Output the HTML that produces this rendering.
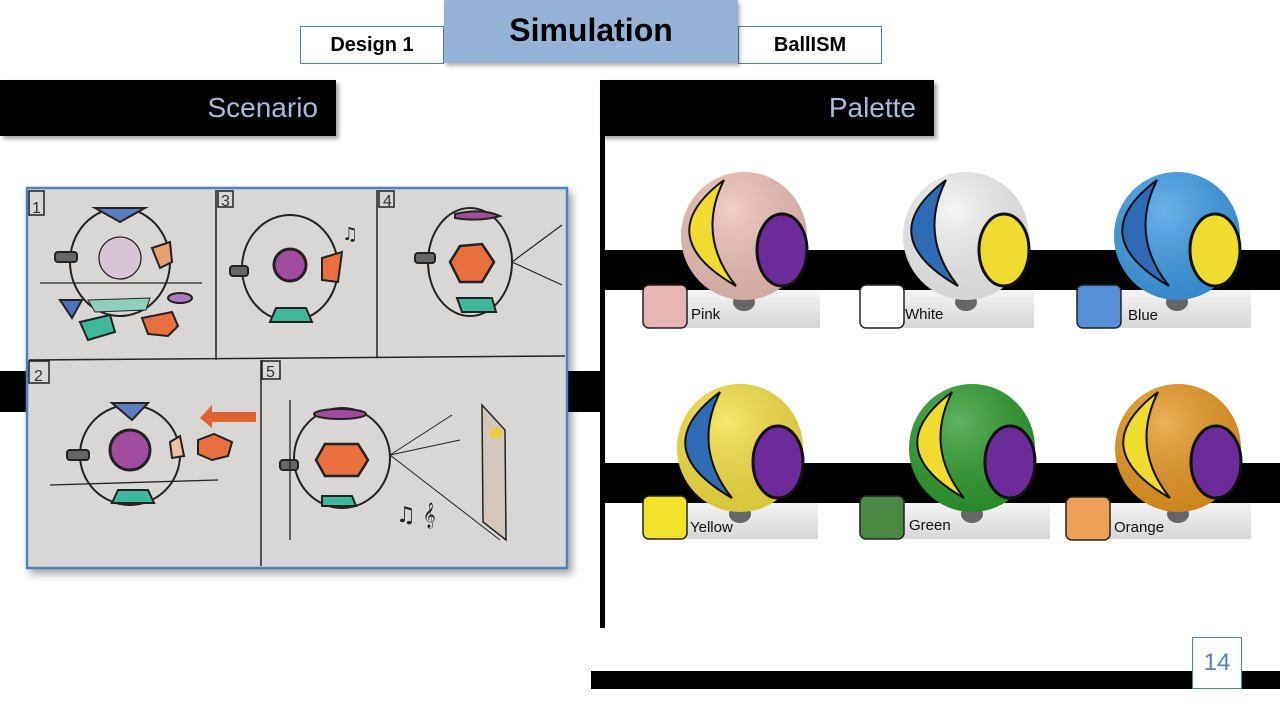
<!DOCTYPE html>
<html><head><meta charset="utf-8"><style>
body{margin:0;width:1280px;height:720px;position:relative;background:#fff;overflow:hidden;font-family:"Liberation Sans",Arial,sans-serif}
.a{position:absolute}
.box{position:absolute;background:#fff;border:1px solid #4f81bd;font-weight:bold;font-size:20px;display:flex;align-items:center;justify-content:center;box-sizing:border-box}
.bar{position:absolute;background:#000;color:#a9bcd9;font-size:28px;text-align:right;box-shadow:3px 3px 4px rgba(0,0,0,.35);box-sizing:border-box;padding-right:18px;line-height:56px}
.lbl{position:absolute;font-size:15px;color:#111}
</style></head><body>
<div class="box" style="left:300px;top:26px;width:144px;height:38px">Design 1</div>
<div class="box" style="left:738px;top:26px;width:144px;height:38px">BallISM</div>
<div class="a" style="left:444px;top:0;width:294px;height:63px;background:#95b3d7;box-shadow:2px 3px 4px rgba(0,0,0,.3);font-weight:bold;font-size:32px;text-align:center;line-height:60px">Simulation</div>
<div class="bar" style="left:0;top:80px;width:336px;height:56px">Scenario</div>
<div class="bar" style="left:600px;top:80px;width:334px;height:56px">Palette</div>
<div class="a" style="left:600px;top:135px;width:5px;height:493px;background:#000"></div>
<div class="a" style="left:0;top:371px;width:600px;height:41px;background:#000"></div>
<div class="a" style="left:604px;top:250px;width:676px;height:40px;background:#000"></div>
<div class="a" style="left:604px;top:463px;width:676px;height:40px;background:#000"></div>
<div class="a" style="left:591px;top:671px;width:689px;height:18px;background:#000"></div>
<div class="a" style="left:1192px;top:637px;width:50px;height:52px;background:#fff;border:1px solid #4f81bd;box-sizing:border-box;color:#4f81bd;font-size:24px;text-align:center;line-height:50px">14</div>

<svg class="a" style="left:0;top:0" width="1280" height="720">
<defs>
<linearGradient id="bd" x1="0" y1="0" x2="0" y2="1"><stop offset="0" stop-color="#f4f4f4"/><stop offset="1" stop-color="#d6d6d6"/></linearGradient>
<radialGradient id="sh" cx=".4" cy=".3" r=".8"><stop offset="0" stop-color="#fff" stop-opacity=".25"/><stop offset="1" stop-color="#000" stop-opacity=".12"/></radialGradient>
</defs>
<rect x="27" y="188" width="540" height="380" fill="#d8d7d5" stroke="#4f81bd" stroke-width="2.5" style="filter:drop-shadow(4px 5px 4px rgba(0,0,0,.35))"/>
<g stroke="#222" stroke-width="1.5" fill="none">
<line x1="216" y1="190" x2="216" y2="360"/><line x1="377" y1="190" x2="377" y2="358"/>
<line x1="29" y1="360" x2="565" y2="356"/><line x1="261" y1="360" x2="261" y2="566"/>
<rect x="29" y="191" width="15" height="24"/><rect x="218" y="191" width="15" height="16"/><rect x="379" y="191" width="15" height="16"/>
<rect x="29" y="361" width="20" height="22"/><rect x="262" y="361" width="18" height="18"/>
</g>
<g font-family="Liberation Sans" font-size="16" fill="#333"><text x="32" y="213">1</text><text x="221" y="206">3</text><text x="383" y="206">4</text><text x="34" y="381">2</text><text x="266" y="377">5</text></g>
<g stroke="#222" stroke-width="2">
<ellipse cx="120" cy="262" rx="50" ry="54" fill="none"/><circle cx="120" cy="258" r="21" fill="#d8c6d6" stroke-width="1.3"/>
<path d="M95,208 L145,208 L120,222Z" fill="#5b7ec0"/><path d="M88,300 L150,298 L146,310 L95,312Z" fill="#8fcfbe" stroke-width="1"/>
<path d="M152,248 L170,242 L172,262 L160,268Z" fill="#e8a070"/><rect x="55" y="252" width="22" height="10" rx="3" fill="#666"/>
<path d="M60,300 L82,300 L72,318Z" fill="#4d70c0"/><path d="M80,322 L110,315 L115,332 L88,340Z" fill="#3fb79b"/>
<path d="M142,318 L172,312 L178,326 L168,336 L148,334Z" fill="#e8703e"/><ellipse cx="180" cy="298" rx="12" ry="5" fill="#b07ab8"/>
<line x1="40" y1="283" x2="202" y2="283" stroke-width="1.3"/>
<ellipse cx="290" cy="268" rx="48" ry="53" fill="none"/><circle cx="290" cy="265" r="16" fill="#a14c9e" stroke-width="3"/>
<path d="M322,258 L342,252 L338,282 L322,280Z" fill="#e8703e"/><path d="M276,308 L306,308 L312,322 L270,322Z" fill="#3fb79b"/><rect x="230" y="266" width="18" height="10" rx="3" fill="#666"/>
<ellipse cx="470" cy="262" rx="42" ry="54" fill="none"/><path d="M455,214 Q482,208 500,216 Q480,222 455,218Z" fill="#a14c9e"/>
<path d="M460,246 L482,244 L494,262 L482,282 L460,282 L450,262Z" fill="#e8703e" stroke-width="2.5"/><path d="M457,298 L492,298 L496,312 L462,312Z" fill="#3fb79b"/><rect x="415" y="253" width="20" height="10" rx="3" fill="#666"/>
<line x1="512" y1="262" x2="562" y2="225" stroke-width="1.2"/><line x1="512" y1="262" x2="562" y2="285" stroke-width="1.2"/>
<ellipse cx="130" cy="455" rx="50" ry="50" fill="none"/><circle cx="130" cy="450" r="20" fill="#a14c9e" stroke-width="3"/>
<path d="M112,403 L148,403 L132,420Z" fill="#5b7ec0"/><path d="M118,490 L148,490 L154,503 L112,503Z" fill="#3fb79b"/><rect x="67" y="450" width="22" height="10" rx="3" fill="#666"/>
<path d="M198,440 L214,434 L232,442 L228,456 L212,460 L198,454Z" fill="#e8703e"/><path d="M170,442 L180,436 L184,456 L172,458Z" fill="#f0c0a0"/>
<path d="M200,418 L212,405 L212,412 L256,412 L256,422 L212,422 L212,428Z" fill="#e06030" stroke="none"/>
<line x1="50" y1="485" x2="218" y2="480" stroke-width="1.3"/>
<ellipse cx="342" cy="458" rx="48" ry="50" fill="none"/><ellipse cx="340" cy="414" rx="26" ry="5" fill="#a14c9e"/>
<path d="M325,444 L358,444 L368,460 L358,476 L325,476 L316,460Z" fill="#e8703e" stroke-width="2.5"/><path d="M322,496 L352,496 L356,506 L322,506Z" fill="#3fb79b"/><rect x="280" y="460" width="18" height="10" rx="3" fill="#666"/>
<line x1="290" y1="400" x2="290" y2="540" stroke-width="1.3"/>
<path d="M482,405 L505,430 L506,540 L483,522Z" fill="#d3c7bd" stroke-width="1.5"/><circle cx="496" cy="433" r="6" fill="#e6cf40" stroke="none"/>
<g stroke-width="1"><line x1="390" y1="455" x2="452" y2="415"/><line x1="390" y1="455" x2="460" y2="440"/><line x1="390" y1="455" x2="500" y2="540"/></g>
</g>
<text x="396" y="522" font-size="22" fill="#222" font-family="DejaVu Sans">♫ 𝄞</text>
<text x="342" y="240" font-size="18" fill="#222" font-family="DejaVu Sans">♫</text>

<rect x="660" y="290" width="160" height="38" fill="url(#bd)"/>
<rect x="878" y="290" width="156" height="38" fill="url(#bd)"/>
<rect x="1095" y="290" width="156" height="38" fill="url(#bd)"/>
<rect x="660" y="503" width="158" height="36" fill="url(#bd)"/>
<rect x="878" y="503" width="172" height="36" fill="url(#bd)"/>
<rect x="1095" y="503" width="156" height="36" fill="url(#bd)"/>
<g transform="translate(744,236)"><ellipse cx="0" cy="66" rx="11" ry="9" fill="#666"/><ellipse cx="0" cy="0" rx="63" ry="64" fill="#eec0b6"/><ellipse cx="0" cy="0" rx="63" ry="64" fill="url(#sh)"/><path d="M-20,-56 Q-95,0 -8,50 Q-48,0 -20,-56Z" fill="#f0dc30" stroke="#111" stroke-width="2"/><ellipse cx="38" cy="14" rx="25" ry="36" fill="#6b2c9a" stroke="#111" stroke-width="3"/></g>
<g transform="translate(966,236)"><ellipse cx="0" cy="66" rx="11" ry="9" fill="#666"/><ellipse cx="0" cy="0" rx="63" ry="64" fill="#f2f2f2"/><ellipse cx="0" cy="0" rx="63" ry="64" fill="url(#sh)"/><path d="M-20,-56 Q-95,0 -8,50 Q-48,0 -20,-56Z" fill="#2f6ab4" stroke="#111" stroke-width="2"/><ellipse cx="38" cy="14" rx="25" ry="36" fill="#f0dc30" stroke="#111" stroke-width="3"/></g>
<g transform="translate(1177,236)"><ellipse cx="0" cy="66" rx="11" ry="9" fill="#666"/><ellipse cx="0" cy="0" rx="63" ry="64" fill="#3a9ae6"/><ellipse cx="0" cy="0" rx="63" ry="64" fill="url(#sh)"/><path d="M-20,-56 Q-95,0 -8,50 Q-48,0 -20,-56Z" fill="#2f6ab4" stroke="#111" stroke-width="2"/><ellipse cx="38" cy="14" rx="25" ry="36" fill="#f0dc30" stroke="#111" stroke-width="3"/></g>
<g transform="translate(740,448)"><ellipse cx="0" cy="66" rx="11" ry="9" fill="#666"/><ellipse cx="0" cy="0" rx="63" ry="64" fill="#f5e040"/><ellipse cx="0" cy="0" rx="63" ry="64" fill="url(#sh)"/><path d="M-20,-56 Q-95,0 -8,50 Q-48,0 -20,-56Z" fill="#2f6ab4" stroke="#111" stroke-width="2"/><ellipse cx="38" cy="14" rx="25" ry="36" fill="#6b2c9a" stroke="#111" stroke-width="3"/></g>
<g transform="translate(972,448)"><ellipse cx="0" cy="66" rx="11" ry="9" fill="#666"/><ellipse cx="0" cy="0" rx="63" ry="64" fill="#2a9a2a"/><ellipse cx="0" cy="0" rx="63" ry="64" fill="url(#sh)"/><path d="M-20,-56 Q-95,0 -8,50 Q-48,0 -20,-56Z" fill="#f0dc30" stroke="#111" stroke-width="2"/><ellipse cx="38" cy="14" rx="25" ry="36" fill="#6b2c9a" stroke="#111" stroke-width="3"/></g>
<g transform="translate(1178,448)"><ellipse cx="0" cy="66" rx="11" ry="9" fill="#666"/><ellipse cx="0" cy="0" rx="63" ry="64" fill="#e8961e"/><ellipse cx="0" cy="0" rx="63" ry="64" fill="url(#sh)"/><path d="M-20,-56 Q-95,0 -8,50 Q-48,0 -20,-56Z" fill="#f0dc30" stroke="#111" stroke-width="2"/><ellipse cx="38" cy="14" rx="25" ry="36" fill="#6b2c9a" stroke="#111" stroke-width="3"/></g>
<g stroke="#222" stroke-width="1.5">
<rect x="643" y="285" width="44" height="43" rx="6" fill="#e8b4b4"/>
<rect x="860" y="285" width="44" height="43" rx="6" fill="#fff"/>
<rect x="1077" y="285" width="44" height="43" rx="6" fill="#568fd8"/>
<rect x="643" y="496" width="44" height="43" rx="6" fill="#f2e22c"/>
<rect x="860" y="496" width="44" height="43" rx="6" fill="#4a8a44"/>
<rect x="1066" y="497" width="44" height="43" rx="6" fill="#eea058"/>
</g>
</svg>
<div class="lbl" style="left:691px;top:306px">Pink</div>
<div class="lbl" style="left:905px;top:306px">White</div>
<div class="lbl" style="left:1128px;top:307px">Blue</div>
<div class="lbl" style="left:690px;top:519px">Yellow</div>
<div class="lbl" style="left:909px;top:517px">Green</div>
<div class="lbl" style="left:1114px;top:519px">Orange</div>
</body></html>
